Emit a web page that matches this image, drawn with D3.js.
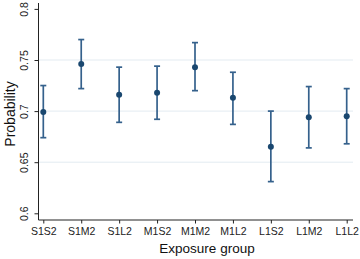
<!DOCTYPE html>
<html><head><meta charset="utf-8">
<script src="https://cdn.jsdelivr.net/npm/d3@7"></script>
<style>body{margin:0;background:#fff}svg{display:block}</style>
</head><body>
<svg id="c" width="360" height="259"></svg>
<script>
const categories = ["S1S2","S1M2","S1L2","M1S2","M1M2","M1L2","L1S2","L1M2","L1L2"];
const estimate = [0.699,0.746,0.716,0.718,0.743,0.713,0.665,0.694,0.695];
const lower    = [0.674,0.722,0.689,0.692,0.720,0.687,0.631,0.664,0.668];
const upper    = [0.725,0.770,0.743,0.744,0.767,0.738,0.700,0.724,0.722];
const yTicks = [0.6,0.65,0.7,0.75,0.8];
const yTickLabels = ["0.6","0.65","0.7","0.75","0.8"];

const svg = d3.select("#c");
const navy = "#1a476f", ci = "#35618c";
const x = d3.scalePoint().domain(categories).range([43.3,346.7]);
const y = d3.scaleLinear().domain([0.6,0.8]).range([213.3,8.9]);
const left = 38.5, bottom = 220, right = 353;

// gridlines
svg.append("g").selectAll("line").data([0.65,0.7,0.75]).join("line")
  .attr("x1",left).attr("x2",right).attr("y1",d=>y(d)).attr("y2",d=>y(d))
  .attr("stroke","#e3ebf1").attr("stroke-width",1);

// y axis
const ya = svg.append("g").attr("transform",`translate(${left},0)`)
  .call(d3.axisLeft(y).tickValues(yTicks).tickSize(4).tickSizeOuter(0)
    .tickFormat((d,i)=>yTickLabels[i]));
ya.select(".domain").attr("d",`M0,3V${bottom}`).attr("stroke","#222");
ya.selectAll(".tick line").attr("stroke","#222");
ya.selectAll(".tick text").attr("transform","rotate(-90)").attr("x",0).attr("y",-10.5)
  .attr("dy","0").attr("text-anchor","middle")
  .style("font-family","Liberation Sans, Arial, sans-serif").style("font-size","10.5px").attr("fill","#222");

// x axis
const xa = svg.append("g").attr("transform",`translate(0,${bottom})`)
  .call(d3.axisBottom(x).tickSize(3.5).tickSizeOuter(0));
xa.select(".domain").attr("d",`M${left},0H${right}`).attr("stroke","#222");
xa.selectAll(".tick line").attr("stroke","#222");
xa.selectAll(".tick text").attr("y",8).attr("dy","0.71em")
  .style("font-family","Liberation Sans, Arial, sans-serif").style("font-size","10.5px").attr("fill","#222");

// titles
svg.append("text").attr("x",207).attr("y",253).attr("text-anchor","middle")
  .style("font-family","Liberation Sans, Arial, sans-serif").style("font-size","13.5px").attr("fill","#111")
  .text("Exposure group");
svg.append("text").attr("transform","translate(15,114) rotate(-90)").attr("text-anchor","middle")
  .style("font-family","Liberation Sans, Arial, sans-serif").style("font-size","14px").attr("fill","#111")
  .text("Probability");

// error bars
const g = svg.append("g");
categories.forEach((c,i)=>{
  const cx = x(c);
  g.append("line").attr("x1",cx).attr("x2",cx).attr("y1",y(lower[i])).attr("y2",y(upper[i]))
    .attr("stroke",ci).attr("stroke-width",1.7);
  [lower[i],upper[i]].forEach(v=>{
    g.append("line").attr("x1",cx-3).attr("x2",cx+3).attr("y1",y(v)).attr("y2",y(v))
      .attr("stroke",ci).attr("stroke-width",1.7);
  });
  g.append("circle").attr("cx",cx).attr("cy",y(estimate[i])).attr("r",3).attr("fill",navy);
});
</script>
</body></html>
